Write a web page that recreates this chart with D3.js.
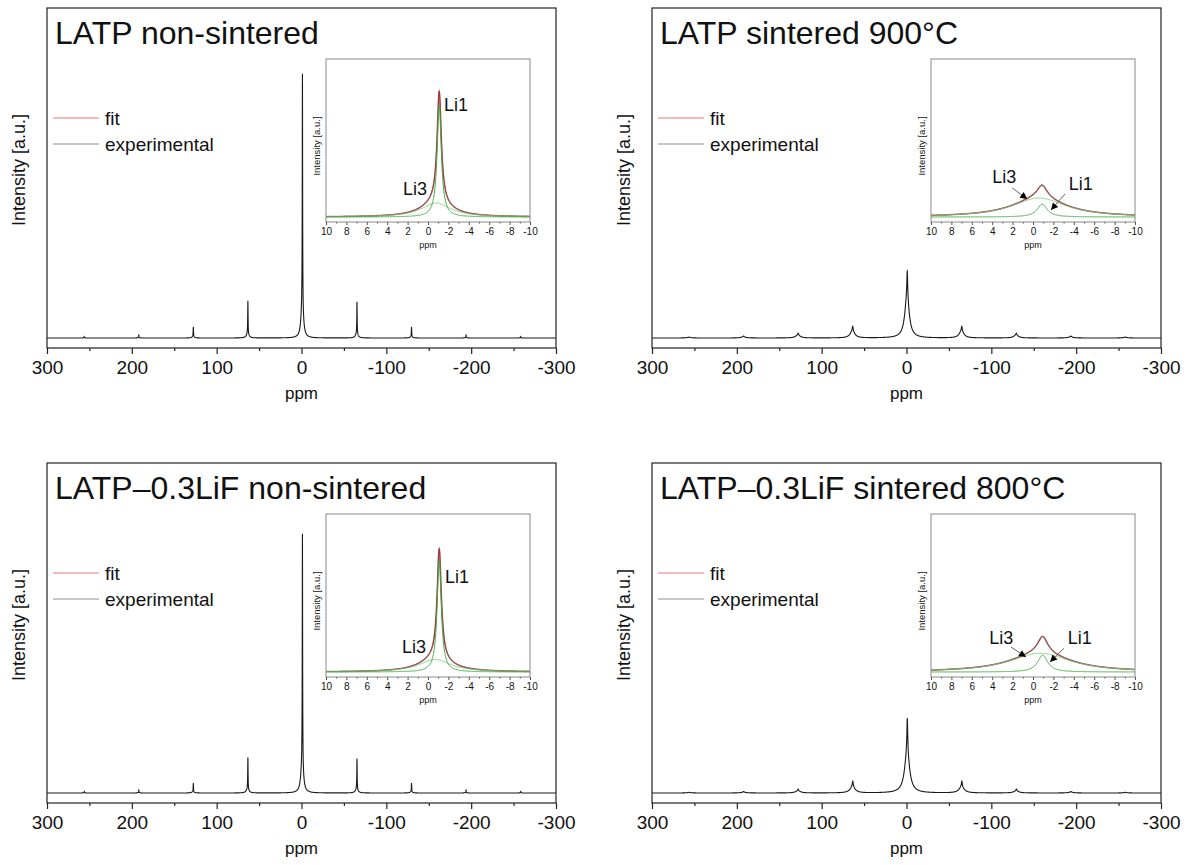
<!DOCTYPE html>
<html><head><meta charset="utf-8">
<script src="https://cdn.jsdelivr.net/npm/d3@7"></script>
<style>
body{margin:0;background:#fff}
svg{display:block}
text{font-family:Arial,"Liberation Sans",sans-serif;fill:#111}
</style>
</head><body>
<svg id="c" width="1189" height="865"></svg>
<script>
// ---------------- data ----------------
const panelTitles = ["LATP non-sintered", "LATP sintered 900°C", "LATP–0.3LiF non-sintered", "LATP–0.3LiF sintered 800°C"];
const legendLabels = ["fit", "experimental"];
const xTicksMain = [300, 200, 100, 0, -100, -200, -300];
const xMinorMain = [250, 150, 50, -50, -150, -250];
const xTicksInset = [10, 8, 6, 4, 2, 0, -2, -4, -6, -8, -10];
const xMinorInset = [9, 7, 5, 3, 1, -1, -3, -5, -7, -9];
// spinning sidebands (ppm offset from the central line) and relative heights
const sidebandOffsets = [257.2, 192.9, 128.6, 64.3, 0, -64.3, -128.6, -192.9, -257.2];
const sidebandRatiosTL = [0.006, 0.011, 0.042, 0.141, 1, 0.137, 0.042, 0.011, 0.006];
const sidebandRatiosTR = [0.015, 0.029, 0.073, 0.175, 1, 0.175, 0.073, 0.029, 0.015];
const sidebandRatiosBL = [0.006, 0.011, 0.038, 0.137, 1, 0.133, 0.038, 0.011, 0.006];
const sidebandRatiosBR = [0.01, 0.02, 0.052, 0.158, 1, 0.158, 0.052, 0.02, 0.01];
// fitted Lorentzian components (centre ppm, height, FWHM ppm)
const li1Center = [-1.1, -0.9, -1.1, -0.95];
const li1Height = [0.896, 0.104, 0.89, 0.135];
const li1Width  = [0.5, 1.2, 0.5, 1.2];
const li3Center = [-0.8, -0.6, -0.7, -0.7];
const li3Height = [0.112, 0.152, 0.10, 0.15];
const li3Width  = [3.5, 6.4, 3.8, 7.2];
// annotation anchors in inset data units [ppm, intensity]
const labelLi1 = [[-1.57, 0.85], [-3.5, 0.216], [-1.67, 0.71], [-3.4, 0.224]];
const labelLi3 = [[2.45, 0.176], [4.0, 0.274], [2.55, 0.152], [4.3, 0.224]];
const arrowLi1 = [null, [-3.14, 0.184, -1.76, 0.056], null, [-3.04, 0.19, -1.67, 0.08]];
const arrowLi3 = [null, [2.03, 0.232, 0.56, 0.144], null, [2.16, 0.2, 0.69, 0.12]];

const sidebandRatios = [sidebandRatiosTL, sidebandRatiosTR, sidebandRatiosBL, sidebandRatiosBR];

// ---------------- drawing ----------------
const svg = d3.select("#c");
const defs = svg.append("defs");
defs.append("marker").attr("id", "ah").attr("viewBox", "0 0 10 10")
  .attr("refX", 10).attr("refY", 5).attr("markerWidth", 9).attr("markerHeight", 7)
  .attr("markerUnits", "userSpaceOnUse").attr("orient", "auto")
  .append("path").attr("d", "M0,0 L10,5 L0,10 z").attr("fill", "#000");

const lor = (x, c, h, w) => h / (1 + Math.pow((x - c) / (w / 2), 2));

const offsets = [[0, 0], [605, 0], [0, 455], [605, 455]];

panelTitles.forEach((title, p) => {
  const [ox, oy] = offsets[p];
  const g = svg.append("g").attr("transform", `translate(${ox},${oy})`);
  const center = x => lor(x, li1Center[p], li1Height[p], li1Width[p]) + lor(x, li3Center[p], li3Height[p], li3Width[p]);

  // main scales
  const x = d3.scaleLinear().domain([300, -300]).range([47, 556]);
  const y = d3.scaleLinear().domain([-0.038, 1.255]).range([348, 8]);

  // main spectrum
  const pts = [];
  for (let v = 300; v >= -300.0001; v -= 0.05) {
    let s = 0;
    sidebandOffsets.forEach((o, k) => { s += sidebandRatios[p][k] * center(v - o); });
    pts.push([v, s]);
  }
  g.append("path").datum(pts)
    .attr("fill", "none").attr("stroke", "#1a1a1a").attr("stroke-width", 1.1)
    .attr("d", d3.line().x(d => x(d[0])).y(d => y(d[1])));

  // main frame and axes
  g.append("rect").attr("x", 47).attr("y", 8).attr("width", 509).attr("height", 340)
    .attr("fill", "none").attr("stroke", "#222").attr("stroke-width", 1.2);
  const ax = g.append("g").attr("transform", "translate(0,348)")
    .call(d3.axisBottom(x).tickValues(xTicksMain).tickSize(6).tickPadding(7).tickFormat(d3.format("d")));
  ax.select(".domain").remove();
  ax.selectAll("line").attr("stroke", "#222").attr("stroke-width", 1.2);
  ax.selectAll("text").attr("font-size", 19).attr("fill", "#111").text(d => d === 0 ? "0" : String(d).replace("−", "-"));
  const axm = g.append("g").attr("transform", "translate(0,348)")
    .call(d3.axisBottom(x).tickValues(xMinorMain).tickSize(3).tickFormat(""));
  axm.select(".domain").remove();
  axm.selectAll("line").attr("stroke", "#222").attr("stroke-width", 1.2);

  g.append("text").attr("x", 301.5).attr("y", 399).attr("text-anchor", "middle")
    .attr("font-size", 17).text("ppm");
  g.append("text").attr("transform", "translate(25,170) rotate(-90)").attr("text-anchor", "middle")
    .attr("font-size", 18).text("Intensity [a.u.]");
  g.append("text").attr("x", 55).attr("y", 44).attr("font-size", 32).text(title);

  // legend
  const legColors = ["#f2a3a3", "#b4b4b4"];
  legendLabels.forEach((lab, i) => {
    const ly = 118 + i * 26;
    g.append("line").attr("x1", 53).attr("x2", 99).attr("y1", ly).attr("y2", ly)
      .attr("stroke", legColors[i]).attr("stroke-width", 1.5);
    g.append("text").attr("x", 105).attr("y", ly + 7).attr("font-size", 19).text(lab);
  });

  // inset
  const xi = d3.scaleLinear().domain([10, -10]).range([326, 530]);
  const yi = d3.scaleLinear().domain([-0.04, 1.264]).range([222, 59]);
  const ig = g.append("g");
  const ipts = [];
  for (let v = 10; v >= -10.0001; v -= 0.02) ipts.push(v);
  const il = f => d3.line().x(d => xi(d)).y(d => yi(f(d)))(ipts);
  const c1 = v => lor(v, li1Center[p], li1Height[p], li1Width[p]);
  const c3 = v => lor(v, li3Center[p], li3Height[p], li3Width[p]);
  ig.append("path").attr("d", il(v => c1(v) + c3(v))).attr("fill", "none").attr("stroke", "#9a9a9a").attr("stroke-width", 1.6);
  ig.append("path").attr("d", il(v => c1(v) + c3(v))).attr("fill", "none").attr("stroke", "#b01818").attr("stroke-width", 0.9);
  ig.append("path").attr("d", il(c3)).attr("fill", "none").attr("stroke", "#7fcf7f").attr("stroke-width", 1);
  ig.append("path").attr("d", il(c1)).attr("fill", "none").attr("stroke", "#3faa3f").attr("stroke-width", 1);

  ig.append("rect").attr("x", 326).attr("y", 59).attr("width", 204).attr("height", 163)
    .attr("fill", "none").attr("stroke", "#8a8a8a").attr("stroke-width", 1);
  const iax = ig.append("g").attr("transform", "translate(0,222)")
    .call(d3.axisBottom(xi).tickValues(xTicksInset).tickSize(3).tickPadding(3).tickFormat(d3.format("d")));
  iax.select(".domain").remove();
  iax.selectAll("line").attr("stroke", "#555");
  iax.selectAll("text").attr("font-size", 10).attr("fill", "#222").text(d => String(d));
  const iaxm = ig.append("g").attr("transform", "translate(0,222)")
    .call(d3.axisBottom(xi).tickValues(xMinorInset).tickSize(1.5).tickFormat(""));
  iaxm.select(".domain").remove();
  iaxm.selectAll("line").attr("stroke", "#555");
  ig.append("text").attr("x", 428).attr("y", 248).attr("text-anchor", "middle").attr("font-size", 9).text("ppm");
  ig.append("text").attr("transform", "translate(320,146) rotate(-90)").attr("text-anchor", "middle")
    .attr("font-size", 9.5).attr("fill", "#222").text("Intensity [a.u.]");

  // annotations
  ig.append("text").attr("x", xi(labelLi1[p][0])).attr("y", yi(labelLi1[p][1])).attr("font-size", 18).text("Li1");
  ig.append("text").attr("x", xi(labelLi3[p][0])).attr("y", yi(labelLi3[p][1])).attr("font-size", 18).text("Li3");
  [arrowLi1[p], arrowLi3[p]].forEach(a => {
    if (!a) return;
    ig.append("line").attr("x1", xi(a[0])).attr("y1", yi(a[1])).attr("x2", xi(a[2])).attr("y2", yi(a[3]))
      .attr("stroke", "#666").attr("stroke-width", 1).attr("marker-end", "url(#ah)");
  });
});
</script>
</body></html>
